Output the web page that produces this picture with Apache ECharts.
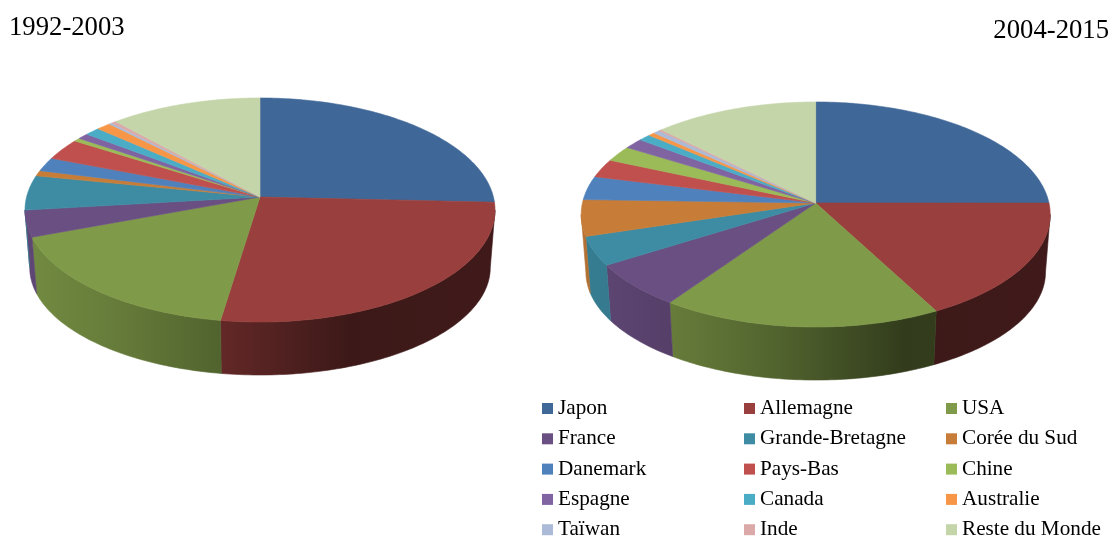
<!DOCTYPE html>
<html><head><meta charset="utf-8">
<style>html,body{margin:0;padding:0;background:#fff}#c{width:1111px;height:538px}</style>
<script src="https://cdn.jsdelivr.net/npm/echarts@6/dist/echarts.min.js"></script>
</head><body><div id="c"></div>
<script>
const categories = ['Japon','Allemagne','USA','France','Grande-Bretagne','Corée du Sud','Danemark','Pays-Bas','Chine','Espagne','Canada','Australie','Taïwan','Inde','Reste du Monde'];
const periods = ['1992-2003','2004-2015'];
const share1992 = [25.7,26.6,16.9,3.8,5.0,0.8,2.0,3.1,0.5,0.85,1.17,1.1,0.25,0.35,11.7];
const share2004 = [25.0,17.2,17.5,6.4,4.17,5.2,3.4,2.64,2.25,1.5,0.94,0.5,0.5,0.22,12.55];
const colors = ['#3f6797','#993f3d','#7f9a48','#6a4f82','#3d8ca3','#c77c37','#4f81bd','#c0504d','#9bbb59','#8064a2','#4bacc6','#f79646','#aabad7','#dba9a8','#c5d5aa'];
const legendCols = [
  ['Japon','France','Danemark','Espagne','Taïwan'],
  ['Allemagne','Grande-Bretagne','Pays-Bas','Canada','Inde'],
  ['USA','Corée du Sud','Chine','Australie','Reste du Monde']
];
const legendLeft = [542,744,946];
// geometry of the two tilted discs: apex, half width, reach up and down
const discs = [
  {cx:260,   ay:197, half:235,   up:99,  down:125, drop:58},
  {cx:815.7, ay:203, half:234.5, up:101, down:124, drop:58}
];
const shadeStops = [[0,.9],[.2,.8],[.42,.64],[.69,.39],[1,.42]];

function persp(d){return (d.down-d.up)/(d.down+d.up);}
function rim(d,deg){
  const k=persp(d), A=d.down*(1-k), B=d.half*Math.sqrt(1-k*k);
  const a=deg*Math.PI/180, u=Math.sin(a), v=-Math.cos(a), w=1-k*v;
  return [B*u/w, A*v/w];
}
function shade(hex,f){
  const n=parseInt(hex.slice(1),16);
  return 'rgb('+[(n>>16)&255,(n>>8)&255,n&255].map(c=>Math.round(c*f)).join(',')+')';
}
function cumul(list){const out=[];let s=0;for(const v of list){out.push([s,s+v]);s+=v;}return out;}
const spans=[cumul(share1992),cumul(share2004)];
const totals=[share1992,share2004].map(l=>l.reduce((a,b)=>a+b,0));

function renderItem(i){
  return function(params,api){
    const p=api.value(0), d=discs[p], col=colors[i];
    const a0=api.value(1)/totals[p]*360, a1=api.value(2)/totals[p]*360;
    const n=Math.max(2,Math.ceil(a1-a0)), top=[[d.cx,d.ay]];
    for(let j=0;j<=n;j++){
      const r=rim(d,a0+(a1-a0)*j/n);
      top.push([d.cx+r[0],d.ay+r[1]]);
    }
    const children=[{type:'polygon',z2:10,shape:{points:top},
      style:{fill:col,stroke:col,lineWidth:.6}}];
    const edge=Math.asin(persp(d))*180/Math.PI;
    const w0=Math.max(a0,90+edge), w1=Math.min(a1,270-edge);
    if(w1>w0){
      const m=Math.max(2,Math.ceil(w1-w0)), upper=[], lower=[];
      for(let j=0;j<=m;j++){
        const r=rim(d,w0+(w1-w0)*j/m);
        upper.push([d.cx+r[0],d.ay+r[1]]);
        lower.push([d.cx+r[0]*.98,d.ay+r[1]*.96+d.drop]);
      }
      const grad={type:'linear',global:true,x:d.cx-d.half,y:0,x2:d.cx+d.half,y2:0,
        colorStops:shadeStops.map(s=>({offset:s[0],color:shade(col,s[1])}))};
      children.push({type:'polygon',z2:1,shape:{points:upper.concat(lower.reverse())},
        style:{fill:grad,stroke:grad,lineWidth:.6}});
    }
    return {type:'group',children};
  };
}
const series=categories.map((name,i)=>({
  type:'custom',name,coordinateSystem:'none',silent:true,
  itemStyle:{color:colors[i]},
  renderItem:renderItem(i),
  data:[[0,spans[0][i][0],spans[0][i][1]],[1,spans[1][i][0],spans[1][i][1]]]
}));
const serif='"Liberation Serif","Times New Roman",serif';
const chart=echarts.init(document.getElementById('c'),null,{renderer:'canvas'});
chart.setOption({
  animation:false,backgroundColor:'#fff',
  title:[
    {text:periods[0],left:9,top:14,padding:0,textStyle:{fontFamily:serif,fontSize:26.7,fontWeight:'normal',color:'#000'}},
    {text:periods[1],right:2,top:17,padding:0,textStyle:{fontFamily:serif,fontSize:26.7,fontWeight:'normal',color:'#000'}}
  ],
  legend:legendCols.map((data,c)=>({
    data,orient:'vertical',left:legendLeft[c],top:398,height:200,width:165,padding:0,
    icon:'rect',itemWidth:11,itemHeight:11,itemGap:9.3,selectedMode:false,
    textStyle:{fontFamily:serif,fontSize:21.2,lineHeight:20,color:'#000'}
  })),
  series
});
</script></body></html>
